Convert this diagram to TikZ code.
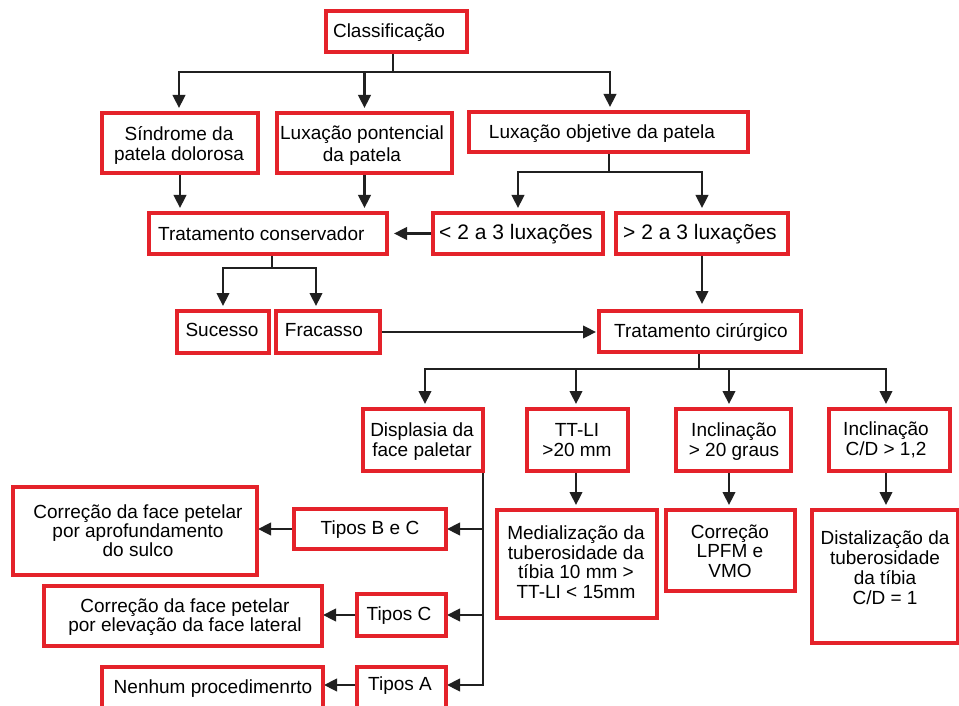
\documentclass[tikz,border=0pt]{standalone}
\usepackage{fontspec}
\setmainfont{Liberation Sans}
\usetikzlibrary{arrows.meta}
\definecolor{boxred}{RGB}{228,34,42}
\definecolor{lineblk}{RGB}{32,32,32}
\begin{document}
\begin{tikzpicture}[x=1pt,y=-1pt,
  box/.style={anchor=north west, inner sep=0pt, outer sep=0pt},
  boxline/.style={draw=boxred, line width=3.2pt, fill=white},
  lbl/.style={font=\fontsize{19}{20}\selectfont, align=center, inner sep=0pt, text=black},
  conn/.style={draw=lineblk, line width=2.4pt, line cap=rect},
  arr/.style={draw=lineblk, line width=2.4pt, -{Triangle[length=13pt,width=12.5pt]}, shorten >=5pt}]
\clip (0,0) rectangle (959,706);
\fill[white] (0,0) rectangle (959,706);

% ---- box geometry ----
\path
 (326,11)  node[box, minimum width=141pt, minimum height=41pt] (cls) {}
 (102,113) node[box, minimum width=156pt, minimum height=60pt] (sin) {}
 (277,113) node[box, minimum width=175pt, minimum height=60pt] (lpp) {}
 (469,112) node[box, minimum width=279pt, minimum height=40pt] (lob) {}
 (149,213) node[box, minimum width=238pt, minimum height=41pt] (tc) {}
 (433,213) node[box, minimum width=170pt, minimum height=41pt] (lt) {}
 (616,213) node[box, minimum width=172pt, minimum height=41pt] (gt) {}
 (177,311) node[box, minimum width=92pt,  minimum height=42pt] (suc) {}
 (276,311) node[box, minimum width=104pt, minimum height=42pt] (fra) {}
 (599,311) node[box, minimum width=202pt, minimum height=41pt] (tcir) {}
 (363,409) node[box, minimum width=120pt, minimum height=62pt] (dis) {}
 (527,409) node[box, minimum width=101pt, minimum height=62pt] (tt) {}
 (676,409) node[box, minimum width=115pt, minimum height=62pt] (inc) {}
 (829,409) node[box, minimum width=121pt, minimum height=62pt] (cd) {}
 (497,510) node[box, minimum width=160pt, minimum height=108pt] (med) {}
 (666,510) node[box, minimum width=129pt, minimum height=81pt] (lpfm) {}
 (812,510) node[box, minimum width=146pt, minimum height=133pt] (dst) {}
 (294,509) node[box, minimum width=152pt, minimum height=40pt] (tbc) {}
 (13,487)  node[box, minimum width=244pt, minimum height=88pt] (csul) {}
 (357,594) node[box, minimum width=89pt,  minimum height=42pt] (tC) {}
 (44,586)  node[box, minimum width=278pt, minimum height=60pt] (clat) {}
 (357,667) node[box, minimum width=89pt,  minimum height=50pt] (tA) {}
 (102,667) node[box, minimum width=221pt, minimum height=50pt] (nen) {};

% ---- junction coordinates ----
\coordinate (j1) at (393,72);
\coordinate (b1l) at (179,72);
\coordinate (b1r) at (610,72);
\coordinate (j2) at (609,172);
\coordinate (j3) at (272,268);
\coordinate (b3r) at (316,268);
\coordinate (j4) at (699,369);
\coordinate (b4l) at (425,369);
\coordinate (b4t) at (576,369);
\coordinate (b4i) at (729,369);
\coordinate (b4r) at (886,369);
\coordinate (dv) at (483,685);

% ---- connectors ----
\draw[conn] (cls.south -| j1) -- (j1);
\draw[conn] (b1l) -- (b1r);
\draw[arr] (b1l) -- (b1l |- sin.north);
\draw[arr] (lpp.north |- j1) -- (lpp.north);
\draw[arr] (b1r) -- (b1r |- lob.north);

\draw[arr] (sin.south) -- (sin.south |- tc.north);
\draw[arr] (lpp.south) -- (lpp.south |- tc.north);

\draw[conn] (lob.south -| j2) -- (j2);
\draw[conn] (lt.north |- j2) -- (gt.north |- j2);
\draw[arr] (lt.north |- j2) -- (lt.north);
\draw[arr] (gt.north |- j2) -- (gt.north);

\draw[arr, shorten >=7pt] (lt.west) -- (lt.west -| tc.east);

\draw[conn] (tc.south -| j3) -- (j3);
\draw[conn] (suc.north |- j3) -- (b3r);
\draw[arr] (suc.north |- j3) -- (suc.north);
\draw[arr] (b3r) -- (b3r |- fra.north);

\draw[arr, shorten >=3pt] (fra.east) -- (fra.east -| tcir.west);
\draw[arr, shorten >=7pt] (gt.south) -- (gt.south |- tcir.north);

\draw[conn] (tcir.south -| j4) -- (j4);
\draw[conn] (b4l) -- (b4r);
\draw[arr] (b4l) -- (b4l |- dis.north);
\draw[arr] (b4t) -- (b4t |- tt.north);
\draw[arr] (b4i) -- (b4i |- inc.north);
\draw[arr] (b4r) -- (b4r |- cd.north);

\draw[arr] (tt.south -| b4t) -- (b4t |- med.north);
\draw[arr] (inc.south -| b4i) -- (b4i |- lpfm.north);
\draw[arr] (cd.south -| b4r) -- (b4r |- dst.north);

\draw[conn] (dis.south east) -- (dis.south east |- dv);
\draw[arr, shorten >=1pt] (tbc.east -| dv) -- (tbc.east);
\draw[arr, shorten >=1pt] (tC.east -| dv) -- (tC.east);
\draw[arr, shorten >=1pt] (dv) -- (dv -| tA.east);
\draw[arr, shorten >=1pt] (tbc.west) -- (tbc.west -| csul.east);
\draw[arr, shorten >=1pt] (tC.west) -- (tC.west -| clat.east);
\draw[arr, shorten >=1pt] (dv -| tA.west) -- (dv -| nen.east);

% ---- red boxes ----
\foreach \n in {cls,sin,lpp,lob,tc,lt,gt,suc,fra,tcir,dis,tt,inc,cd,med,lpfm,dst,tbc,csul,tC,clat,tA,nen}
  \draw[boxline] (\n.north west) rectangle (\n.south east);

% ---- texts ----
\node[lbl] (clsT) at (389,33) {Classificação};
\node[lbl] (sinT) at (179,145) {Síndrome da\\patela dolorosa};
\node[lbl, font=\fontsize{19}{22}\selectfont] (lppT) at (362,146) {Luxação pontencial\\da patela};
\node[lbl] (lobT) at (602,134) {Luxação objetive da patela};
\node[lbl, anchor=west] (tcT) at (158,234) {Tratamento conservador};
\node[lbl, font=\fontsize{21}{22}\selectfont] (ltT) at (516,234) {< 2 a 3 luxações};
\node[lbl, font=\fontsize{21}{22}\selectfont] (gtT) at (700,234) {> 2 a 3 luxações};
\node[lbl] (sucT) at (222,330) {Sucesso};
\node[lbl] (fraT) at (324,330) {Fracasso};
\node[lbl] (tcirT) at (701,332) {Tratamento cirúrgico};
\node[lbl] (disT) at (422,442) {Displasia da\\face paletar};
\node[lbl] (ttT) at (577,440) {TT-LI\\>20 mm};
\node[lbl] (incT) at (734,442) {Inclinação\\> 20 graus};
\node[lbl] (cdT) at (886,440) {Inclinação\\C/D > 1,2};
\node[lbl, font=\fontsize{19}{19.5}\selectfont] (medT) at (576,562) {Medialização da\\tuberosidade da\\tíbia 10 mm >\\TT-LI < 15mm};
\node[lbl, font=\fontsize{19}{19.5}\selectfont] (lpfmT) at (730,551) {Correção\\LPFM e\\VMO};
\node[lbl, font=\fontsize{19}{20}\selectfont] (dstT) at (885,568) {Distalização da\\tuberosidade\\da tíbia\\C/D = 1};
\node[lbl] (tbcT) at (370,530) {Tipos B e C};
\node[lbl, font=\fontsize{19}{19}\selectfont] (csulT) at (138,531) {Correção da face petelar\\por aprofundamento\\do sulco};
\node[lbl] (tCT) at (399,616) {Tipos C};
\node[lbl, font=\fontsize{19}{19}\selectfont] (clatT) at (185,617) {Correção da face petelar\\por elevação da face lateral};
\node[lbl] (tAT) at (400,686) {Tipos A};
\node[lbl] (nenT) at (213,689) {Nenhum procedimenrto};
\end{tikzpicture}
\end{document}
